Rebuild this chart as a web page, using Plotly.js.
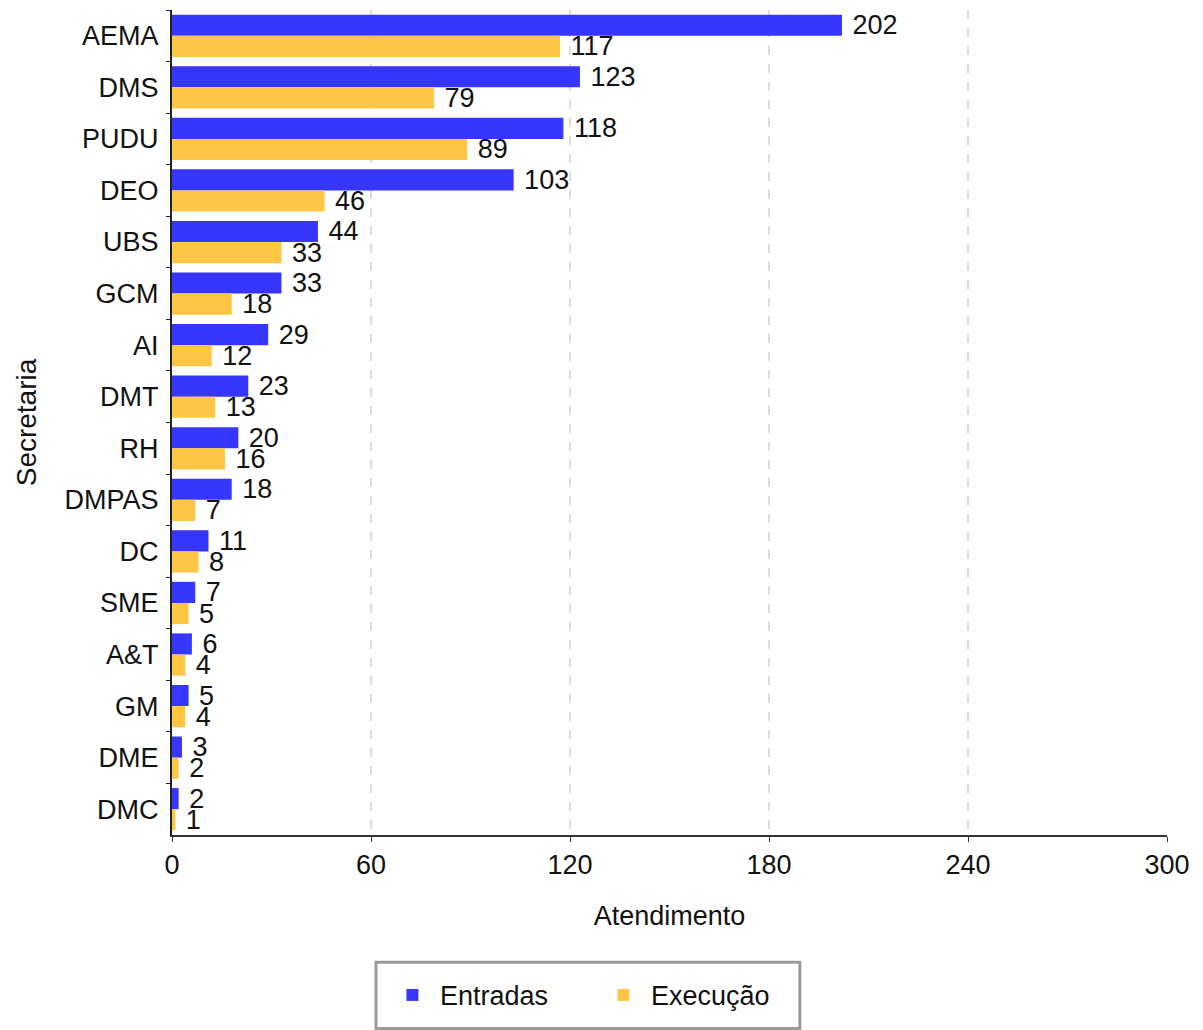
<!DOCTYPE html>
<html>
<head>
<meta charset="utf-8">
<script src="https://cdn.plot.ly/plotly-3.0.1.min.js"></script>
<style>html,body{margin:0;padding:0;background:#fff;}#chart{width:1203px;height:1030px;}</style>
</head>
<body>
<div id="chart"></div>
<script>
const categories = ["AEMA","DMS","PUDU","DEO","UBS","GCM","AI","DMT","RH","DMPAS","DC","SME","A&T","GM","DME","DMC"];
const entradas = [202,123,118,103,44,33,29,23,20,18,11,7,6,5,3,2];
const execucao = [117,79,89,46,33,18,12,13,16,7,8,5,4,4,2,1];
const xTicks = [0,60,120,180,240,300];

const FONT = "Liberation Sans, Arial, sans-serif";
const FS = 27;

const common = {
  type: 'bar', orientation: 'h', y: categories,
  textposition: 'outside', cliponaxis: false, constraintext: 'none',
  texttemplate: ' %{x}',
  textfont: {family: FONT, size: FS, color: '#111'},
  hoverinfo: 'x+y'
};
const traces = [
  Object.assign({}, common, {name: 'Entradas', x: entradas, marker: {color: '#3636ff'}}),
  Object.assign({}, common, {name: 'Execução', x: execucao, marker: {color: '#ffc645'}})
];

const layout = {
  width: 1203, height: 1030,
  margin: {l: 172, r: 36, t: 10, b: 195},
  paper_bgcolor: '#fff', plot_bgcolor: '#fff',
  font: {family: FONT, size: FS, color: '#111'},
  barmode: 'group', bargap: 0.18, bargroupgap: 0,
  showlegend: true,
  legend: {
    orientation: 'h', x: 0.214, xanchor: 'left', y: -0.1944, yanchor: 'middle',
    xref: 'paper', yref: 'paper', entrywidth: 151, entrywidthmode: 'pixels',
    itemwidth: 45,
    bgcolor: 'rgba(0,0,0,0)', borderwidth: 0,
    font: {family: FONT, size: FS, color: '#111'}
  },
  shapes: [{
    type: 'rect', xref: 'paper', yref: 'paper',
    x0: 0.205, x1: 0.631, y0: -0.1543, y1: -0.2345,
    line: {color: '#9a9a9a', width: 3}, fillcolor: 'rgba(0,0,0,0)', layer: 'above'
  }],
  xaxis: {
    range: [0, 300], tickvals: xTicks, ticktext: xTicks.map(String),
    showgrid: true, gridcolor: '#dcdcdc', griddash: 'dash', gridwidth: 2,
    zeroline: false, showline: true, linecolor: '#333', linewidth: 2,
    ticks: 'outside', ticklen: 5, tickcolor: '#333',
    tickfont: {family: FONT, size: FS, color: '#111'},
    title: {text: 'Atendimento', font: {family: FONT, size: FS, color: '#111'}, standoff: 27}
  },
  yaxis: {
    type: 'category', autorange: 'reversed',
    showgrid: false, zeroline: false, showline: true, linecolor: '#222', linewidth: 2,
    ticks: 'outside', ticklen: 4, tickcolor: '#222', tickson: 'boundaries',
    ticklabelstandoff: 6,
    tickfont: {family: FONT, size: FS, color: '#111'},
    title: {text: 'Secretaria', font: {family: FONT, size: 28, color: '#111'}, standoff: 20}
  }
};

Plotly.newPlot('chart', traces, layout, {displayModeBar: false});
</script>
</body>
</html>
